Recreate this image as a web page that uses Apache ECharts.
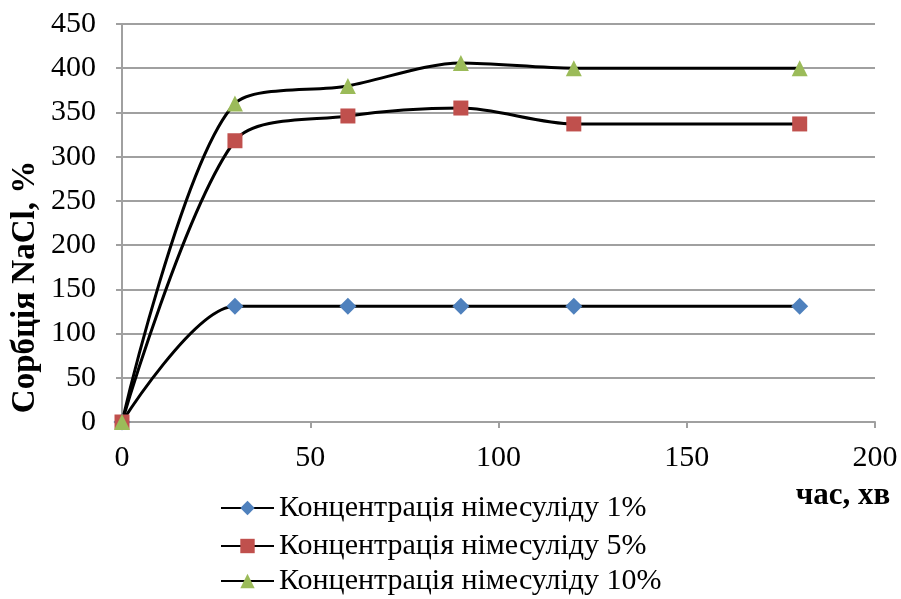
<!DOCTYPE html>
<html>
<head>
<meta charset="utf-8">
<title>Сорбція NaCl</title>
<script src="https://cdn.jsdelivr.net/npm/echarts@6/dist/echarts.min.js"></script>
<style>
  html, body { margin: 0; padding: 0; background: #fff; }
  #main { width: 901px; height: 599px; }
</style>
</head>
<body>
<div id="main"></div>
<script>
// час, хв
var times = [0, 30, 60, 90, 120, 180];
// сорбція, %
var conc1 = [0, 131, 131, 131, 131, 131];
var conc5 = [0, 318, 346, 355, 337, 337];
var conc10 = [0, 360, 380, 406, 400, 400];
var seriesNames = ['Концентрація німесуліду 1%', 'Концентрація німесуліду 5%', 'Концентрація німесуліду 10%'];

function pairs(ys) {
    return times.map(function (t, i) { return [t, ys[i]]; });
}

var font = 'Liberation Serif, Times New Roman, serif';
var gridGrey = '#a0a0a0';

function line(name, ys, symbol, size, color) {
    return {
        type: 'line',
        name: name,
        data: pairs(ys),
        smooth: 0.3,
        symbol: symbol,
        symbolSize: size,
        showSymbol: true,
        lineStyle: { color: '#000', width: 3 },
        itemStyle: { color: color },
        z: 3
    };
}

// one legend per row, so rows sit where the picture has them
function legendRow(name, top) {
    return {
        orient: 'vertical',
        left: 215,
        top: top,
        itemWidth: 53,
        itemHeight: 18,
        itemStyle: { borderWidth: 0 },
        textStyle: { color: '#000', fontFamily: font, fontSize: 30 },
        data: [name]
    };
}

var option = {
    animation: false,
    grid: { left: 122, right: 26, top: 24, bottom: 177 },
    xAxis: {
        type: 'value',
        min: 0, max: 200, interval: 50,
        axisLine: { lineStyle: { color: gridGrey, width: 2 } },
        axisTick: { show: true, length: 6, lineStyle: { color: gridGrey, width: 2 } },
        splitLine: { show: false },
        axisLabel: { color: '#000', fontFamily: font, fontSize: 30, margin: 21 }
    },
    yAxis: {
        type: 'value',
        min: 0, max: 450, interval: 50,
        axisLine: { show: true, lineStyle: { color: gridGrey, width: 2 } },
        axisTick: { show: true, length: 6, lineStyle: { color: gridGrey, width: 2 } },
        splitLine: { lineStyle: { color: gridGrey, width: 2 } },
        axisLabel: { color: '#000', fontFamily: font, fontSize: 30, margin: 26 }
    },
    legend: [
        legendRow(seriesNames[0], 488),
        legendRow(seriesNames[1], 526),
        legendRow(seriesNames[2], 561)
    ],
    graphic: [{
        type: 'text',
        x: 843,
        y: 496,
        style: { text: 'час, хв', fill: '#000', font: 'bold 31px ' + font, align: 'center', verticalAlign: 'middle' }
    }, {
        type: 'text',
        x: 25,
        y: 287,
        rotation: Math.PI / 2,
        style: { text: 'Сорбція NaCl, %', fill: '#000', font: 'bold 33px ' + font, align: 'center', verticalAlign: 'middle' }
    }],
    series: [
        line(seriesNames[0], conc1, 'diamond', 17, '#4f81bd'),
        line(seriesNames[1], conc5, 'rect', 15, '#c0504d'),
        line(seriesNames[2], conc10, 'triangle', 16, '#9bbb59')
    ]
};

var myChart = echarts.init(document.getElementById('main'));
myChart.setOption(option);
</script>
</body>
</html>
